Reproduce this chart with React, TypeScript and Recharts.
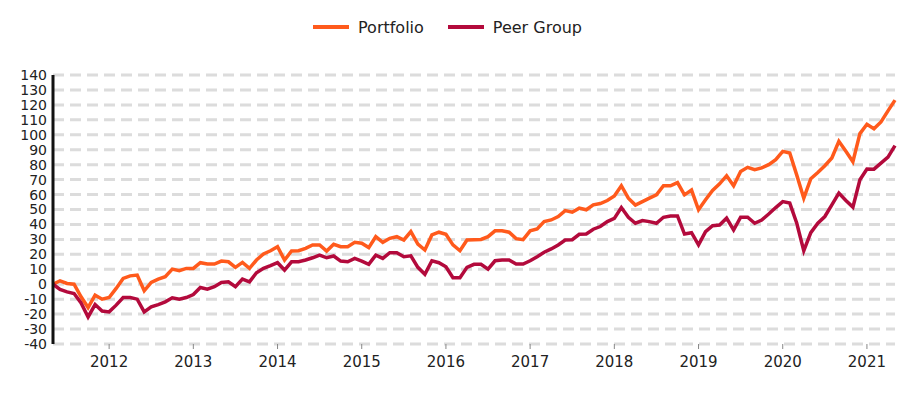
import React from 'react';
import {
  LineChart,
  Line,
  XAxis,
  YAxis,
  CartesianGrid,
  Legend
} from 'recharts';

// monthly cumulative return (%), May 2011 .. May 2021
const START_YEAR = 2011;
const START_MONTH = 5;

const portfolio = [
  0, 2.3, 0.5, 0, -8.4, -15.6, -7.3, -10, -8.9, -2.8, 3.9, 5.6,
  6.1, -4.4, 1.2, 3.4, 5, 10.1, 9, 10.6, 10.6, 14.4, 13.5, 13.5,
  15.5, 15, 11.3, 14.6, 10.6, 16.2, 20.2, 22.4, 25.1, 16.2, 22.2, 22.4,
  24, 26.3, 26.3, 22.2, 26.7, 25.1, 25.1, 28, 27.4, 24.5, 31.8, 28,
  30.7, 31.8, 29.6, 35.2, 26.9, 22.9, 33, 34.8, 33.4, 26.3, 22.4, 29.6,
  29.8, 30, 31.8, 35.7, 35.7, 34.8, 30.5, 29.8, 35.7, 37, 41.9, 43,
  45.3, 49.3, 48.2, 50.9, 49.8, 53.1, 54, 56, 59, 65.9, 57.6, 53,
  55.3, 57.6, 59.8, 65.9, 65.9, 68, 59.8, 63, 49.8, 56.5, 62.8, 67.2,
  72.6, 65.9, 75.5, 78.2, 76.6, 77.8, 80, 83.3, 88.9, 87.8, 73, 57.6,
  70.6, 74.8, 79.3, 84.5, 95.6, 89, 82, 100.8, 107, 104, 108.6, 116,
  123.2
];

const peerGroup = [
  0, -3.5, -5.1, -6.2, -12.5, -21.9, -13.6, -17.9, -18.5, -14, -8.9, -8.9,
  -10, -18.5, -15.2, -13.6, -11.8, -9.1, -10, -8.9, -6.9, -2.2, -3.3, -1.7,
  1.2, 1.6, -1.7, 3.4, 1.6, 7.7, 10.6, 12.4, 14.4, 9.5, 15, 15,
  16.2, 17.7, 19.5, 17.7, 18.9, 15.5, 15, 17.3, 15.5, 13.3, 19.5, 17.3,
  21.1, 21.1, 18.4, 19, 11.3, 6.6, 15.7, 14.4, 11.7, 4.3, 4.3, 11.3,
  13.3, 13.3, 10.1, 15.7, 16.2, 16.2, 13.5, 13.5, 15.7, 18.4, 21.4, 23.6,
  26.3, 29.6, 29.8, 33.4, 33.6, 36.8, 38.6, 41.9, 44, 51.3, 44.8, 40.8,
  42.6, 41.9, 40.8, 44.8, 45.7, 45.7, 33.6, 34.5, 26.3, 35.2, 39.2, 39.6,
  44.2, 36.3, 44.8, 44.8, 40.8, 43, 47, 51.3, 55.3, 54.3, 40.8, 22.4,
  34.5, 40.8, 45.3, 53.1, 61, 56, 51.6, 69.9, 77.1, 77, 81, 85,
  92.7
];

const yearTicks = [2012, 2013, 2014, 2015, 2016, 2017, 2018, 2019, 2020, 2021];
const valueTicks = [-40, -30, -20, -10, 0, 10, 20, 30, 40, 50, 60, 70, 80, 90, 100, 110, 120, 130, 140];

const series = [
  { key: 'portfolio', name: 'Portfolio', color: '#ff5a1c' },
  { key: 'peer', name: 'Peer Group', color: '#b30a3c' }
];

// x is months since start
const data = portfolio.map((p, i) => ({
  m: i,
  portfolio: p,
  peer: peerGroup[i]
}));

const monthIndex = (year: number) => (year - START_YEAR) * 12 + (1 - START_MONTH);
const xTicks = yearTicks.map(monthIndex);

const FONT = '"DejaVu Sans", sans-serif';

const LegendContent = () => (
  <div style={{ height: 67, display: 'flex', justifyContent: 'center', paddingTop: 9, paddingLeft: 16, boxSizing: 'border-box', fontFamily: FONT, fontSize: 16, color: '#222' }}>
    {series.map(s => (
      <div key={s.key} style={{ display: 'flex', alignItems: 'center', marginRight: 24, height: 20 }}>
        <span style={{ display: 'inline-block', width: 36, height: 4, background: s.color, marginRight: 9 }} />
        <span>{s.name}</span>
      </div>
    ))}
  </div>
);

export default function App() {
  return (
    <div style={{ width: 903, height: 380 }}>
      <LineChart
        width={903}
        height={380}
        data={data}
        margin={{ top: 0, right: 16, left: 0, bottom: 14 }}
      >
        <Legend verticalAlign="top" content={<LegendContent />} />
        <CartesianGrid vertical={false} stroke="#dcdcdc" strokeWidth={3} strokeDasharray="11 6" />
        <XAxis
          dataKey="m"
          type="number"
          domain={[0, portfolio.length - 1]}
          ticks={xTicks}
          tickFormatter={(v: number) => String(START_YEAR + Math.floor((v + START_MONTH - 1) / 12))}
          axisLine={false}
          tickLine={{ stroke: '#888' }}
          tickSize={5}
          tickMargin={7}
          tick={{ fill: '#222', fontSize: 15, fontFamily: FONT }}
        />
        <YAxis
          width={45}
          domain={[-40, 140]}
          ticks={valueTicks}
          interval={0}
          axisLine={{ stroke: '#111', strokeWidth: 3 }}
          tickLine={false}
          tickSize={4}
          tickMargin={2}
          tick={{ fill: '#222', fontSize: 14, fontFamily: FONT }}
        />
        {series.map(s => (
          <Line
            key={s.key}
            type="linear"
            dataKey={s.key}
            name={s.name}
            stroke={s.color}
            strokeWidth={3.5}
            dot={false}
            isAnimationActive={false}
          />
        ))}
      </LineChart>
    </div>
  );
}
